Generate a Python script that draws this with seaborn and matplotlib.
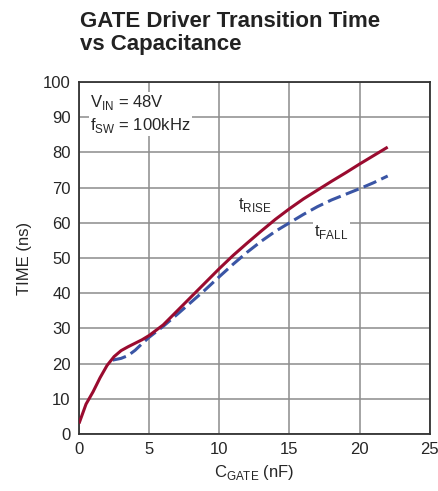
import pandas as pd
import seaborn as sns
import matplotlib.pyplot as plt

sns.set_style("white")
plt.rcParams['font.family'] = ['Liberation Sans', 'DejaVu Sans']

# t_RISE curve
rise_c = [0, 0.5, 1, 1.5, 2, 2.5, 3, 3.5, 4, 4.5, 5, 6, 7, 8, 9, 10, 11, 12, 13, 14, 15, 16, 17, 18, 19, 20, 21, 22]
rise_t = [3, 8.5, 12, 16, 19.5, 22, 23.7, 24.8, 25.8, 26.8, 28, 31, 35, 39, 43, 47, 50.8, 54.3, 57.7, 61, 64, 66.8, 69.3, 71.8, 74.2, 76.7, 79.1, 81.5]
# t_FALL curve
fall_c = [2.4, 3, 3.5, 4, 4.5, 5, 6, 7, 8, 9, 10, 11, 12, 13, 14, 15, 16, 17, 18, 19, 20, 21, 22]
fall_t = [21, 21.5, 22.3, 23.8, 25.7, 27.5, 30.6, 34, 37.5, 41, 44.7, 48.3, 51.7, 54.8, 57.6, 60, 62.4, 64.6, 66.5, 68.1, 69.7, 71.4, 73.3]

x_ticks = [0, 5, 10, 15, 20, 25]
y_ticks = list(range(0, 101, 10))

rise_df = pd.DataFrame({"C": rise_c, "t": rise_t})
fall_df = pd.DataFrame({"C": fall_c, "t": fall_t})

fig = plt.figure(figsize=(4.39, 4.91), dpi=100)
ax = fig.add_axes([0.18, 0.116, 0.799, 0.717])

sns.lineplot(data=rise_df, x="C", y="t", ax=ax, color="#9a0b2f", linewidth=2.2, zorder=3)
sns.lineplot(data=fall_df, x="C", y="t", ax=ax, color="#3a55a5", linewidth=2.2, zorder=2)
ax.lines[-1].set_dashes([4.5, 1.8])
for ln in ax.lines:
    ln.set_solid_capstyle("butt")

ax.set_xlim(0, 25)
ax.set_ylim(0, 100)
ax.set_xticks(x_ticks)
ax.set_yticks(y_ticks)
ax.tick_params(labelsize=12, length=0, pad=6)
ax.grid(True, color="#8c8c8c", linewidth=1.1)
for s in ax.spines.values():
    s.set_color("#333333")
    s.set_linewidth(1.3)

ax.set_xlabel(r"C$_{\mathregular{GATE}}$ (nF)", fontsize=12, labelpad=4)
ax.set_ylabel("TIME (ns)", fontsize=12, labelpad=8)

ax.text(0.8, 96.8, "V$_{\\mathregular{IN}}$ = 48V\nf$_{\\mathregular{SW}}$ = 100kHz", fontsize=12,
        va="top", ha="left", linespacing=1.25,
        bbox=dict(facecolor="white", edgecolor="none", pad=1))
ax.text(11.3, 65, "t$_{\\mathregular{RISE}}$", fontsize=12, ha="left", va="center",
        bbox=dict(facecolor="white", edgecolor="none", pad=0.5))
ax.text(18.0, 57.5, "t$_{\\mathregular{FALL}}$", fontsize=12, ha="center", va="center",
        bbox=dict(facecolor="white", edgecolor="none", pad=1))

fig.text(0.182, 0.977, "GATE Driver Transition Time\nvs Capacitance", fontsize=16,
         fontweight="bold", ha="left", va="top", linespacing=1.1, color="#222222")

fig.savefig("out.png", dpi=100)
